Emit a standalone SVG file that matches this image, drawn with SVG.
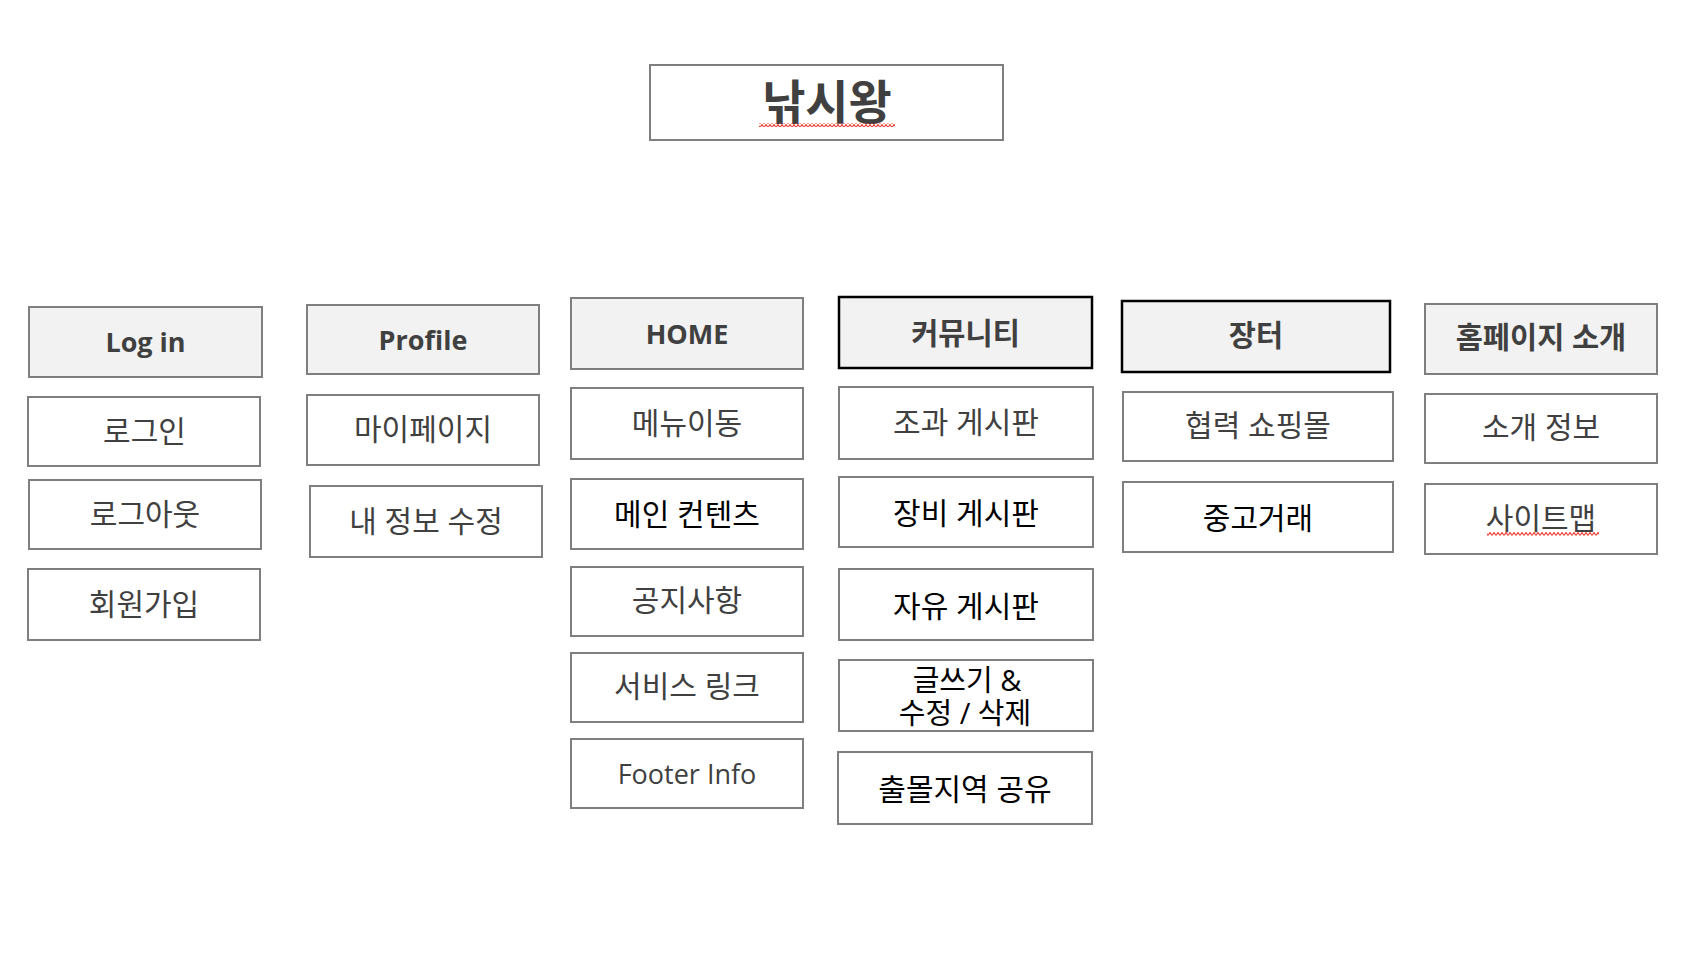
<svg xmlns="http://www.w3.org/2000/svg" width="1706" height="962" viewBox="0 0 1706 962">
<style>
.box{fill:#fff;stroke:#7f7f7f;stroke-width:2}
.hdr{fill:#f2f2f2;stroke:#7f7f7f;stroke-width:2}
.hdrk{fill:#f2f2f2;stroke:#000;stroke-width:2.5}
text{font-family:"Open Sans","Noto Sans CJK KR",sans-serif;text-anchor:middle;dominant-baseline:central}
.t{font-size:30px;fill:#404040}
.tk{font-size:30px;fill:#000}
.tk2{font-size:29px;fill:#000}
.tl{font-size:27px;fill:#404040}
.h{font-size:29.5px;font-weight:bold;fill:#404040}
.hl{font-size:27px;font-weight:bold;fill:#404040}
.title{font-size:47px;font-weight:bold;fill:#404040}
</style>
<defs>
<pattern id="squig" width="4" height="4" patternUnits="userSpaceOnUse">
<path d="M0 3.5 L2 0.5 L4 3.5" fill="none" stroke="#e8453c" stroke-width="1.2"/>
</pattern>
</defs>
<rect width="1706" height="962" fill="#fff"/>
<g id="connectors"/>
<g id="title">
<rect class="box" x="650" y="65" width="353" height="75"/>
<text class="title" x="827" y="101">낚시왕</text>
<rect x="759" y="123" width="136" height="4" fill="url(#squig)"/>
</g>
<g id="login-h"><rect class="hdr" x="29" y="307" width="233" height="70"/><text class="hl" x="145.5" y="341.5">Log in</text></g>
<g id="login"><rect class="box" x="28" y="397" width="232" height="69"/><text class="t" x="144.5" y="430">로그인</text></g>
<g id="logout"><rect class="box" x="29" y="480" width="232" height="69"/><text class="t" x="145" y="513.5">로그아웃</text></g>
<g id="signup"><rect class="box" x="28" y="569" width="232" height="71"/><text class="t" x="144" y="603">회원가입</text></g>

<g id="profile-h"><rect class="hdr" x="307" y="305" width="232" height="69"/><text class="hl" x="423" y="339.5">Profile</text></g>
<g id="mypage"><rect class="box" x="307" y="395" width="232" height="70"/><text class="t" x="423" y="428">마이페이지</text></g>
<g id="edit-info"><rect class="box" x="310" y="486" width="232" height="71"/><text class="t" x="426" y="520">내 정보 수정</text></g>

<g id="home-h"><rect class="hdr" x="571" y="298" width="232" height="71"/><text class="hl" x="687" y="333">HOME</text></g>
<g id="menu"><rect class="box" x="571" y="388" width="232" height="71"/><text class="t" x="687" y="422">메뉴이동</text></g>
<g id="main-content"><rect class="box" x="571" y="479" width="232" height="70"/><text class="tk" x="687" y="513.5">메인 컨텐츠</text></g>
<g id="notice"><rect class="box" x="571" y="567" width="232" height="69"/><text class="t" x="687" y="599.5">공지사항</text></g>
<g id="service-link"><rect class="box" x="571" y="653" width="232" height="69"/><text class="t" x="687" y="685.5">서비스 링크</text></g>
<g id="footer"><rect class="box" x="571" y="739" width="232" height="69"/><text class="tl" x="687" y="773.5">Footer Info</text></g>

<g id="community-h"><rect class="hdrk" x="839" y="297" width="253" height="71"/><text class="h" x="965.5" y="332">커뮤니티</text></g>
<g id="catch-board"><rect class="box" x="839" y="387" width="254" height="72"/><text class="t" x="966" y="421">조과 게시판</text></g>
<g id="gear-board"><rect class="box" x="839" y="477" width="254" height="70"/><text class="tk" x="966" y="512.5">장비 게시판</text></g>
<g id="free-board"><rect class="box" x="839" y="569" width="254" height="71"/><text class="tk" x="966" y="605">자유 게시판</text></g>
<g id="write"><rect class="box" x="839" y="660" width="254" height="71"/><text class="tk2" x="967" y="679">글쓰기 &amp;</text><text class="tk2" x="965" y="712">수정 / 삭제</text></g>
<g id="spot-share"><rect class="box" x="838" y="752" width="254" height="72"/><text class="tk" x="965" y="788">출몰지역 공유</text></g>

<g id="market-h"><rect class="hdrk" x="1122" y="301" width="268" height="71"/><text class="h" x="1256" y="334">장터</text></g>
<g id="partner-mall"><rect class="box" x="1123" y="392" width="270" height="69"/><text class="t" x="1258" y="424">협력 쇼핑몰</text></g>
<g id="used"><rect class="box" x="1123" y="482" width="270" height="70"/><text class="tk" x="1258" y="517">중고거래</text></g>

<g id="about-h"><rect class="hdr" x="1425" y="304" width="232" height="70"/><text class="h" x="1541" y="336">홈페이지 소개</text></g>
<g id="about-info"><rect class="box" x="1425" y="394" width="232" height="69"/><text class="t" x="1541" y="426.5">소개 정보</text></g>
<g id="sitemap"><rect class="box" x="1425" y="484" width="232" height="70"/><text class="t" x="1541" y="517">사이트맵</text>
<rect x="1487" y="532" width="112" height="4" fill="url(#squig)"/></g>
</svg>
